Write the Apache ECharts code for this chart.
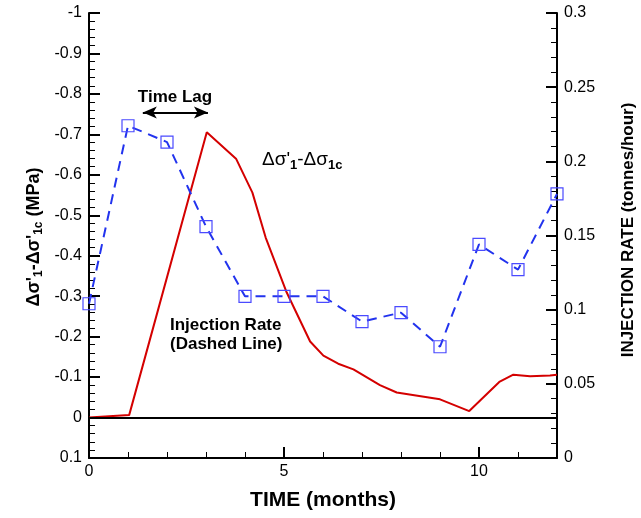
<!DOCTYPE html>
<html><head><meta charset="utf-8">
<script src="https://cdn.jsdelivr.net/npm/echarts@6/dist/echarts.min.js"></script>
<style>html,body{margin:0;padding:0;background:#fff}#c{width:641px;height:518px}</style>
</head><body><div id="c"></div>
<script>
// ---- data ----
const injTime = [0,1,2,3,4,5,6,7,8,9,10,11,12];
const injRate = [0.104,0.224,0.213,0.156,0.109,0.109,0.109,0.092,0.098,0.075,0.144,0.127,0.178];
const stressTime = [0,1.03,1.44,3.02,3.77,4.19,4.53,5.07,5.67,6.01,6.39,6.78,7.46,7.89,9.0,9.75,10.52,10.88,11.31,11.82,12];
const stressValue = [0,-0.006,-0.15,-0.705,-0.64,-0.556,-0.445,-0.309,-0.188,-0.153,-0.133,-0.119,-0.080,-0.062,-0.045,-0.016,-0.088,-0.106,-0.102,-0.104,-0.106];
const xMajorTicks = [0,5,10];
const timeLagStart = 1.38, timeLagEnd = 3.05, timeLagLevel = -0.754;

const FONT = '"Liberation Sans", Arial, sans-serif';
const stressData = stressTime.map((t,i)=>[t, stressValue[i]]);
const injData = injTime.map((t,i)=>[t, injRate[i]]);

const chart = echarts.init(document.getElementById('c'), null, {renderer:'canvas'});
const axisLine = {show:true, onZero:false, lineStyle:{color:'#000', width:2}};
const labelStyle = {color:'#000', fontSize:16, fontFamily:FONT};

const option = {
  animation:false,
  backgroundColor:'#fff',
  grid:{left:89, right:84, top:13, bottom:60, containLabel:false},
  xAxis:[
    {type:'value', min:0, max:12, interval:1, position:'bottom',
     axisLine:axisLine, axisTick:{show:true, inside:true, length:6, lineStyle:{color:'#000', width:1}},
     axisLabel:{show:false}, splitLine:{show:false}},
    {type:'value', min:0, max:12, interval:5, position:'bottom',
     axisLine:{show:false, onZero:false}, axisTick:{show:true, inside:true, length:11, lineStyle:{color:'#000', width:2}},
     axisLabel:Object.assign({margin:6, showMaxLabel:false, formatter:v=> xMajorTicks.includes(v)? String(v):''}, labelStyle),
     splitLine:{show:false}}
  ],
  yAxis:[
    {type:'value', position:'left', inverse:true, min:-1, max:0.1, interval:0.1,
     axisLine:axisLine,
     axisTick:{show:true, inside:true, length:11, lineStyle:{color:'#000', width:2}},
     minorTick:{show:true, splitNumber:5, length:6, lineStyle:{color:'#000', width:1}},
     axisLabel:Object.assign({margin:7}, labelStyle),
     splitLine:{show:false}, minorSplitLine:{show:false}},
    {type:'value', position:'right', min:0, max:0.3, interval:0.05,
     axisLine:axisLine,
     axisTick:{show:true, inside:true, length:11, lineStyle:{color:'#000', width:2}},
     minorTick:{show:true, splitNumber:5, length:6, lineStyle:{color:'#000', width:1}},
     axisLabel:Object.assign({margin:7}, labelStyle),
     splitLine:{show:false}, minorSplitLine:{show:false}}
  ],
  series:[
    {type:'line', name:'stress', xAxisIndex:0, yAxisIndex:0, data:stressData,
     showSymbol:false, symbol:'none', lineStyle:{color:'#d40000', width:2}, z:3,
     markLine:{silent:true, symbol:['none','none'], label:{show:false},
       lineStyle:{color:'#000', width:2, type:'solid'},
       data:[
         {yAxis:0},
         [{coord:[timeLagStart,timeLagLevel], symbol:'arrow', symbolSize:[9,14]},
          {coord:[timeLagEnd,timeLagLevel], symbol:'arrow', symbolSize:[9,14]}]
       ]}},
    {type:'line', name:'injection', xAxisIndex:0, yAxisIndex:1, data:injData,
     symbol:'rect', symbolSize:12, showSymbol:true, clip:false,
     lineStyle:{color:'#2233ee', width:2, type:[10,7]},
     itemStyle:{color:'rgba(0,0,0,0)', borderColor:'#4a4aff', borderWidth:1.2}, z:4}
  ],
  graphic:[
    {type:'text', x:175, y:97, style:{text:'Time Lag', font:'bold 17px '+FONT, fill:'#000', align:'center', verticalAlign:'middle'}},
    {type:'text', x:262, y:160, style:{text:"{a|Δσ'}{s|1}{a|-Δσ}{s|1c}", align:'left', verticalAlign:'middle',
      rich:{a:{fontSize:19, fontFamily:FONT, fill:'#000', lineHeight:24},
            s:{fontSize:13, fontFamily:FONT, fontWeight:'bold', fill:'#000', lineHeight:13, verticalAlign:'bottom', padding:[8,0,0,0]}}}},
    {type:'text', x:170, y:316, style:{text:'Injection Rate\n(Dashed Line)', font:'bold 17px '+FONT, fill:'#000', lineHeight:19, align:'left', verticalAlign:'top'}},
    {type:'text', x:34, y:237, rotation:Math.PI/2, style:{text:"{a|Δσ'}{s|1}{a|-Δσ'}{s|1c}{a| (MPa)}", align:'center', verticalAlign:'middle',
      rich:{a:{fontSize:18, fontFamily:FONT, fontWeight:'bold', fill:'#000', lineHeight:22},
            s:{fontSize:12, fontFamily:FONT, fontWeight:'bold', fill:'#000', lineHeight:12, verticalAlign:'bottom', padding:[8,0,0,0]}}}},
    {type:'text', x:628, y:230, rotation:Math.PI/2, style:{text:'INJECTION RATE (tonnes/hour)', font:'bold 17px '+FONT, fill:'#000', align:'center', verticalAlign:'middle'}},
    {type:'text', x:323, y:500, style:{text:'TIME (months)', font:'bold 21px '+FONT, fill:'#000', align:'center', verticalAlign:'middle'}}
  ]
};
chart.setOption(option);
</script></body></html>
